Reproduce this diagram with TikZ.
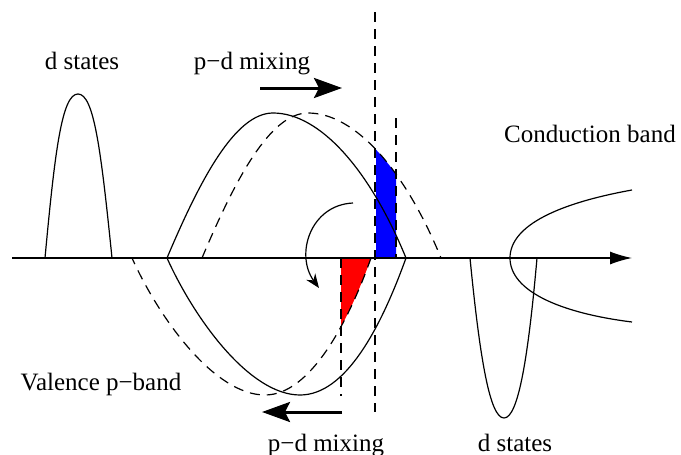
\documentclass[tikz,border=0pt]{standalone}
\usepackage{fontspec}
\setmainfont{Liberation Serif}
\usetikzlibrary{arrows.meta}
\begin{document}
\begin{tikzpicture}[x=1pt,y=-1pt,
  curve/.style={line width=1.2pt},
  dcurve/.style={line width=1.2pt, dash pattern=on 10pt off 7pt},
  bigarrow/.style={line width=3pt,-{Stealth[length=28pt,width=20pt,inset=5pt]}},
  lbl/.style={font=\fontsize{25}{30}\selectfont, anchor=base, inner sep=0pt}]
\useasboundingbox (0,0) rectangle (681,455);

% coloured areas
\begin{scope}
  \clip (376,0) rectangle (396,258);
  \fill[blue] (202,258) .. controls (235,180) and (270,113) .. (308,113) .. controls (355,113) and (405,170) .. (441,258) -- cycle;
\end{scope}
\begin{scope}
  \clip (341,258) rectangle (420,420);
  \fill[red] (371,258) .. controls (348,323) and (310,395) .. (265,395) .. controls (215,395) and (160,320) .. (132,258) -- cycle;
\end{scope}

% axis
\coordinate (axL) at (12,258);
\coordinate (axR) at (632,258);
\draw[line width=1.2pt,-{Latex[length=22pt,width=13pt]}] (axL) -- (axR);

% left d states
\draw[curve] (45,258) .. controls (55,150) and (62,94) .. (78,94) .. controls (94,94) and (101,150) .. (112,258);
% right d states
\draw[curve] (470,258) .. controls (480,360) and (490,418) .. (504,418) .. controls (518,418) and (528,360) .. (537,258);
% conduction band
\draw[curve] (632,190) .. controls (560,203) and (510,225) .. (510,258) .. controls (510,291) and (560,313) .. (632,322);

% solid band
\draw[curve] (167,258) .. controls (200,180) and (235,113) .. (273,113) .. controls (320,113) and (370,170) .. (406,258);
\draw[curve] (406,258) .. controls (380,330) and (345,395) .. (300,395) .. controls (250,395) and (195,320) .. (167,258);
% dashed band
\draw[dcurve] (202,258) .. controls (235,180) and (270,113) .. (308,113) .. controls (355,113) and (405,170) .. (441,258);
\draw[dcurve] (371,258) .. controls (348,323) and (310,395) .. (265,395) .. controls (215,395) and (160,320) .. (132,258);

% vertical dashed lines
\coordinate (v1t) at (375,12);
\coordinate (v1b) at (375,412);
\coordinate (v2t) at (396,118);
\coordinate (v2b) at (396,258);
\coordinate (v3t) at (341,258);
\coordinate (v3b) at (341,396);
\draw[dcurve] (v1t) -- (v1b);
\draw[dcurve] (v2t) -- (v2b);
\draw[dcurve] (v3t) -- (v3b);

% curved arrow
\coordinate (ca1) at (353,203);
\coordinate (ca2) at (319,288);
\draw[line width=1.2pt,-{Stealth[length=14pt,width=11pt]}] (ca1) .. controls (310,205) and (295,255) .. (ca2);

% mixing arrows
\coordinate (ta1) at (260,88);
\coordinate (ta2) at (342,88);
\coordinate (ba1) at (342,412);
\coordinate (ba2) at (262,412);
\draw[bigarrow] (ta1) -- (ta2);
\draw[bigarrow] (ba1) -- (ba2);

% labels
\node[lbl] (dL) at (82,69) {d states};
\node[lbl] (mixT) at (252,69) {p−d mixing};
\node[lbl] (cb) at (590,142) {Conduction band};
\node[lbl] (vb) at (101,390) {Valence p−band};
\node[lbl] (mixB) at (326,451) {p−d mixing};
\node[lbl] (dR) at (515,451) {d states};
\end{tikzpicture}
\end{document}
